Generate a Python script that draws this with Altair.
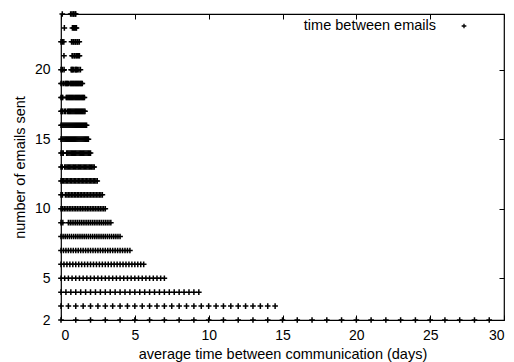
import altair as alt
import pandas as pd

# ---- data ----
# number of emails sent (rows of the plot)
emails_sent = [2, 3, 4, 5, 6, 7, 8, 9, 10, 11, 12, 13, 14, 15, 16, 17, 18, 19, 20, 21, 22, 23, 24]
# largest whole-day span seen in each row (average time = span / (emails - 1))
last_span = [29, 29, 28, 28, 28, 28, 28, 27, 27, 28, 27, 27, 26, 26, 26, 26, 27, 26, 25, 25, 26, 23, 23]
first_span = [0, 0, 0, 0, 0, 0, 0, 0, 0, 0, 0, 0, 0, 0, 0, 0, 0, 0, 0, 0, 0, 0, 0]
# spans missing in the fuller rows
gaps_17 = [3, 6]
gaps_18 = [3, 4, 5]
gaps_19 = [2, 4, 10]
gaps_14 = [3, 4]
gaps_13 = [2]
gaps_11 = [2]
gaps_9 = [2, 3]
# the sparse top rows: spans actually present
spans_20 = [0, 2, 4, 13, 14, 15, 16, 18, 19, 20, 21, 23, 25]
spans_21 = [4, 15, 16, 18, 19, 21, 22, 24, 25]
spans_22 = [0, 2, 4, 15, 17, 18, 20, 21, 23, 24, 26]
spans_23 = [5, 17, 19, 20, 22, 23]
spans_24 = [2, 15, 17, 19, 20, 22, 23]

x_ticks = [0, 5, 10, 15, 20, 25, 30]
y_ticks = [2, 5, 10, 15, 20]
legend_label = "time between emails"

gaps = {9: gaps_9, 11: gaps_11, 13: gaps_13, 14: gaps_14, 17: gaps_17, 18: gaps_18, 19: gaps_19}
sparse = {20: spans_20, 21: spans_21, 22: spans_22, 23: spans_23, 24: spans_24}

rows = []
for n, lo, hi in zip(emails_sent, first_span, last_span):
    if n in sparse:
        spans = sparse[n]
    else:
        spans = [k for k in range(lo, hi + 1) if k not in gaps.get(n, [])]
    for k in spans:
        rows.append({"avg": k / (n - 1), "n": n})
df = pd.DataFrame(rows)

FONT = "Liberation Sans"
PLUS = "M-1,0L1,0M0,-1L0,1"

xs = alt.Scale(domain=[0, 30], nice=False)
ys = alt.Scale(domain=[2, 24], nice=False)

points = alt.Chart(df).mark_point(
    shape=PLUS, filled=False, stroke="black", strokeWidth=1.5, size=32, opacity=1
).encode(
    x=alt.X("avg:Q", scale=xs, title="average time between communication (days)",
            axis=alt.Axis(values=x_ticks, orient="bottom", domain=False, offset=-5,
                          tickSize=5, tickColor="black", labelPadding=8,
                          titlePadding=5)),
    y=alt.Y("n:Q", scale=ys, title="number of emails sent",
            axis=alt.Axis(values=y_ticks, orient="left", domain=False, offset=-5,
                          tickSize=5, tickColor="black", labelPadding=11,
                          titlePadding=7)),
)

mirror = alt.Chart(df).mark_point(opacity=0).encode(
    x=alt.X("avg:Q", scale=xs, title=None,
            axis=alt.Axis(values=x_ticks, orient="top", domain=False, offset=-5,
                          tickSize=5, tickColor="black", labels=False)),
    y=alt.Y("n:Q", scale=ys, title=None,
            axis=alt.Axis(values=[5, 10, 15, 20], orient="right", domain=False, offset=-5,
                          tickSize=5, tickColor="black", labels=False)),
)

leg = pd.DataFrame({"label": [legend_label]})
leg_text = alt.Chart(leg).mark_text(
    align="right", baseline="middle", font=FONT, fontSize=14.5, color="black"
).encode(text="label:N", x=alt.value(375), y=alt.value(12))
leg_mark = alt.Chart(leg).mark_point(
    shape=PLUS, filled=False, stroke="black", strokeWidth=1.3, size=22, opacity=1
).encode(x=alt.value(403), y=alt.value(12))

chart = alt.layer(points, mirror, leg_text, leg_mark).resolve_axis(
    x="independent", y="independent"
).properties(
    width=443, height=306,
    autosize=alt.AutoSizeParams(type="none"),
    padding={"left": 53, "top": 6, "right": 1, "bottom": 44},
).configure_view(
    stroke="black", strokeWidth=1.2
).configure_axis(
    labelFont=FONT, titleFont=FONT, labelFontSize=14, titleFontSize=14.5,
    labelColor="black", titleColor="black", titleFontWeight="normal", grid=False
)

chart.save("out.html", embed_options={"renderer": "svg", "actions": False})
